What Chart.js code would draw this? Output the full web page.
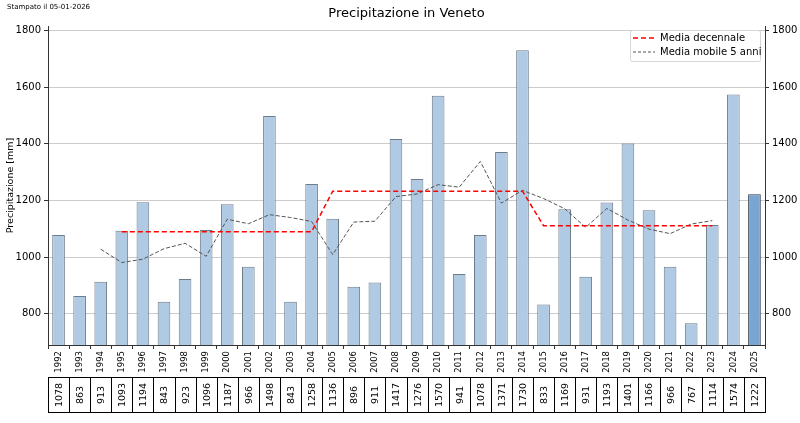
<!DOCTYPE html>
<html>
<head>
<meta charset="utf-8">
<script src="https://cdn.jsdelivr.net/npm/chart.js@4"></script>
<style>
  body { margin: 0; background: #fff; }
  canvas { display: block; }
</style>
</head>
<body>
<canvas id="rainChart" width="800" height="423"></canvas>
<script>
const years = ['1992','1993','1994','1995','1996','1997','1998','1999','2000','2001','2002','2003','2004','2005','2006','2007','2008','2009','2010','2011','2012','2013','2014','2015','2016','2017','2018','2019','2020','2021','2022','2023','2024','2025'];
const rain = [1078,863,913,1093,1194,843,923,1096,1187,966,1498,843,1258,1136,896,911,1417,1276,1570,941,1078,1371,1730,833,1169,931,1193,1401,1166,966,767,1114,1574,1222];
const decadeMean = [null,null,null,1090,1090,1090,1090,1090,1090,1090,1090,1090,1090,1233,1233,1233,1233,1233,1233,1233,1233,1233,1233,1111,1111,1111,1111,1111,1111,1111,1111,1111,null,null];
const movingMean = [null,null,1028,981,993,1030,1049,1003,1134,1118,1150,1140,1126,1009,1124,1127,1214,1223,1256,1247,1338,1191,1236,1207,1171,1105,1172,1131,1099,1083,1117,1129,null,null];
const yTicks = [800,1000,1200,1400,1600,1800];

const FONT = 'DejaVu Sans';

const barFill = years.map((y, i) => i === years.length - 1 ? '#78a5d1' : '#b1cae4');
const barEdge = years.map((y, i) => i === years.length - 1 ? '#2b3744' : '#6d7c8a');

const extras = {
    id: 'extras',
    afterDraw(chart) {
        const ctx = chart.ctx;
        const area = chart.chartArea;
        const xs = chart.scales.x;
        ctx.save();

        // stamp + title
        ctx.fillStyle = '#000';
        ctx.font = '7px ' + FONT;
        ctx.textAlign = 'left';
        ctx.textBaseline = 'middle';
        ctx.fillText('Stampato il 05-01-2026', 7, 7);
        ctx.font = '13px ' + FONT;
        ctx.textAlign = 'center';
        ctx.fillText('Precipitazione in Veneto', (area.left + area.right) / 2, 14);

        // y title
        ctx.save();
        ctx.translate(11, (area.top + area.bottom) / 2);
        ctx.rotate(-Math.PI / 2);
        ctx.font = '9.5px ' + FONT;
        ctx.fillText('Precipitazione [mm]', 0, 0);
        ctx.restore();

        // legend
        const lx = 630, ly = 30;
        ctx.fillStyle = 'rgba(255,255,255,0.85)';
        ctx.strokeStyle = '#d6d6d6';
        ctx.lineWidth = 1;
        ctx.beginPath();
        ctx.roundRect(lx + 0.5, ly + 0.5, 130, 31, 2);
        ctx.fill();
        ctx.stroke();
        ctx.lineWidth = 1.5;
        ctx.strokeStyle = '#ff0000';
        ctx.setLineDash([5, 3]);
        ctx.beginPath(); ctx.moveTo(lx + 3, ly + 8); ctx.lineTo(lx + 25, ly + 8); ctx.stroke();
        ctx.lineWidth = 1;
        ctx.strokeStyle = '#555';
        ctx.setLineDash([3, 2]);
        ctx.beginPath(); ctx.moveTo(lx + 3, ly + 22); ctx.lineTo(lx + 25, ly + 22); ctx.stroke();
        ctx.setLineDash([]);
        ctx.fillStyle = '#000';
        ctx.font = '10px ' + FONT;
        ctx.textAlign = 'left';
        ctx.fillText('Media decennale', lx + 30, ly + 8);
        ctx.fillText('Media mobile 5 anni', lx + 30, ly + 22);

        // value table
        const top = 377.5, bot = 412.5;
        const step = (area.right - area.left) / years.length;
        ctx.strokeStyle = '#000';
        ctx.lineWidth = 1;
        ctx.strokeRect(area.left + 0.5, top, area.right - area.left, bot - top);
        ctx.beginPath();
        for (let i = 1; i < years.length; i++) {
            const bx = Math.round(area.left + step * i) + 0.5;
            ctx.moveTo(bx, top);
            ctx.lineTo(bx, bot);
        }
        ctx.stroke();
        ctx.font = '9.5px ' + FONT;
        ctx.textAlign = 'center';
        rain.forEach((v, i) => {
            const cx = xs.getPixelForValue(i);
            ctx.save();
            ctx.translate(cx, (top + bot) / 2);
            ctx.rotate(-Math.PI / 2);
            ctx.fillText(String(v), 0, 1);
            ctx.restore();
        });
        ctx.restore();
    }
};

new Chart(document.getElementById('rainChart'), {
    data: {
        labels: years,
        datasets: [
            {
                type: 'line',
                label: 'Media decennale',
                data: decadeMean,
                borderColor: '#ff0000',
                borderWidth: 1.5,
                borderDash: [5, 3],
                pointRadius: 0,
                tension: 0,
                order: 1
            },
            {
                type: 'line',
                label: 'Media mobile 5 anni',
                data: movingMean,
                borderColor: '#555',
                borderWidth: 1,
                borderDash: [4, 2],
                pointRadius: 0,
                tension: 0,
                order: 2
            },
            {
                type: 'bar',
                label: 'Precipitazione',
                data: rain,
                backgroundColor: barFill,
                borderColor: barEdge,
                borderWidth: 1,
                barPercentage: 0.6,
                categoryPercentage: 1,
                order: 3
            }
        ]
    },
    options: {
        responsive: false,
        animation: false,
        devicePixelRatio: 1,
        layout: { padding: { top: 26, left: 0, right: 0, bottom: 0 } },
        plugins: { legend: { display: false }, tooltip: { enabled: false }, title: { display: false } },
        scales: {
            x: {
                offset: true,
                grid: { display: true, drawOnChartArea: false, tickLength: 4, color: '#333' },
                border: { color: '#333' },
                ticks: { font: { family: FONT, size: 8.5 }, color: '#000', maxRotation: 90, minRotation: 90, autoSkip: false, padding: 2 },
                afterFit(s) { s.height = 78; }
            },
            y: {
                position: 'left',
                min: 690, max: 1816,
                afterBuildTicks(s) { s.ticks = yTicks.map(v => ({ value: v })); },
                grid: { color: '#cccccc', tickLength: 4, tickColor: '#333' },
                border: { color: '#333' },
                ticks: { font: { family: FONT, size: 10 }, color: '#000', padding: 3, callback: v => String(v) },
                afterFit(s) { s.width = 48; }
            },
            y2: {
                position: 'right',
                min: 690, max: 1816,
                afterBuildTicks(s) { s.ticks = yTicks.map(v => ({ value: v })); },
                grid: { drawOnChartArea: false, tickLength: 4, color: '#333' },
                border: { color: '#333' },
                ticks: { font: { family: FONT, size: 10 }, color: '#000', padding: 3, callback: v => String(v) },
                afterFit(s) { s.width = 35; }
            }
        }
    },
    plugins: [extras]
});
</script>
</body>
</html>
